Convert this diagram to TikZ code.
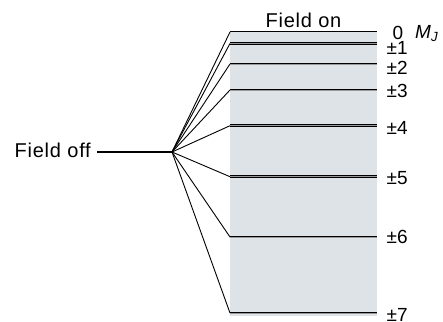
\documentclass[tikz,border=0pt]{standalone}
\usepackage{fontspec}
\setmainfont{Liberation Sans}
\newfontfamily\widefont[LetterSpace=3.8]{Liberation Sans}
\definecolor{bgc}{RGB}{221,227,231}
\begin{document}
\begin{tikzpicture}[x=1pt,y=-1pt,
  lvl/.style={line width=0.9pt, double=black!40, double distance=0.8pt},
  fan/.style={line width=0.9pt},
  lab/.style={font=\widefont\fontsize{20}{22}\selectfont, inner sep=0pt},
  num/.style={font=\fontsize{19}{21}\selectfont, inner sep=0pt}]
\useasboundingbox (0,0) rectangle (443,321);
\fill[bgc] (230,32) rectangle (377,316);
\node[lab, anchor=base] (on) at (303.5,28) {Field on};
\node[lab, anchor=base east] (off) at (91,157) {Field off};
\coordinate (F) at (172,152);
\coordinate (O) at (97,152);
\draw[line width=2.4pt] (O) -- (F);
\coordinate (L0) at (230,32);
\coordinate (R0) at (377,32);
\draw[fan] (F) -- (L0);
\draw[line width=1pt] (L0) -- (R0);
\node[num] (t0) at (398,32.5) {0};
\node[num, anchor=west] (mj) at (415,33.5) {\textit{M}\textsubscript{\textit{J}}};
\foreach \n/\y/\ty in {1/43.5/47.8,2/64/67.5,3/90/90.5,4/125.7/128.3,5/176.7/178.3,6/237/236.8,7/313/314.5} {
  \coordinate (L\n) at (230,\y);
  \coordinate (R\n) at (377,\y);
  \draw[fan] (F) -- (L\n);
  \draw[lvl] (L\n) -- (R\n);
  \node[num, anchor=west] (t\n) at (386.5,\ty) {±\n};
}
\end{tikzpicture}
\end{document}
